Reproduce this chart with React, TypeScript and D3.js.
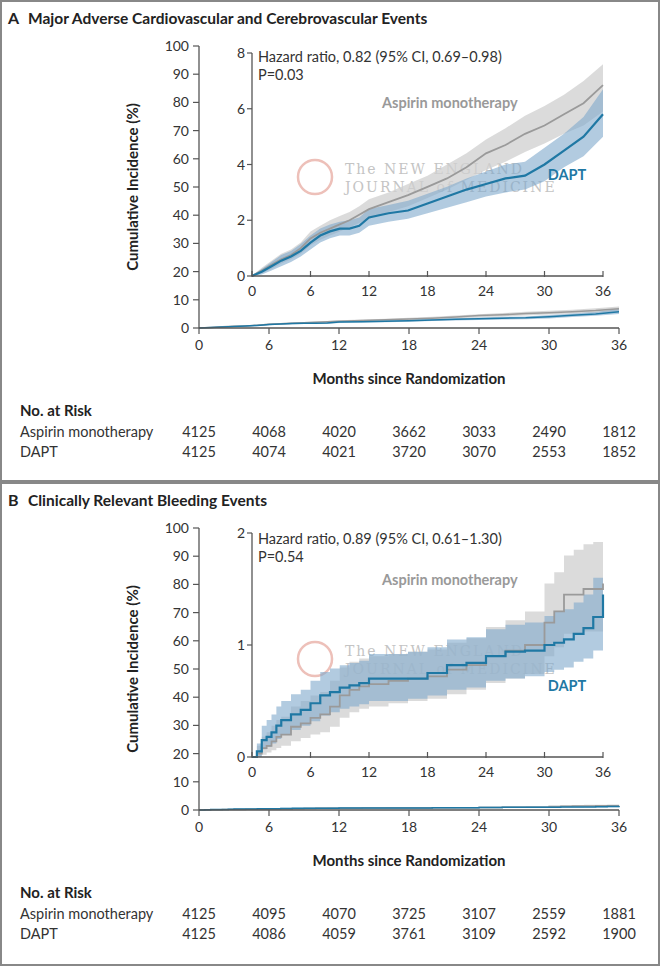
import React from "react";
import * as d3 from "d3";

const months = [0, 6, 12, 18, 24, 30, 36];
const mainYTicks = [0, 10, 20, 30, 40, 50, 60, 70, 80, 90, 100];

const aTimes = [0,1,2,3,4,5,6,7,8,9,10,11,12,14,16,18,20,22,24,26,28,30,32,34,36];
const aAsp = [0,0.2,0.4,0.6,0.75,1.0,1.35,1.55,1.7,1.85,2.0,2.2,2.4,2.65,2.9,3.2,3.5,3.9,4.4,4.7,5.1,5.4,5.8,6.2,6.85];
const aAspLo = [0,0.1,0.25,0.45,0.6,0.8,1.1,1.3,1.45,1.6,1.75,1.9,2.05,2.3,2.5,2.8,3.1,3.45,3.8,4.1,4.45,4.75,5.1,5.4,5.9];
const aAspHi = [0,0.3,0.55,0.8,0.95,1.2,1.6,1.8,2.0,2.15,2.3,2.5,2.75,3.0,3.3,3.6,4.0,4.4,4.9,5.3,5.75,6.1,6.5,7.0,7.6];
const aDapt = [0,0.15,0.35,0.55,0.7,0.9,1.2,1.45,1.6,1.7,1.7,1.8,2.1,2.25,2.35,2.6,2.85,3.1,3.3,3.5,3.6,4.0,4.5,5.0,5.8];
const aDaptLo = [0,0.05,0.2,0.35,0.5,0.7,0.95,1.2,1.35,1.45,1.45,1.55,1.8,1.95,2.05,2.25,2.45,2.65,2.85,3.0,3.1,3.4,3.9,4.3,5.0];
const aDaptHi = [0,0.25,0.5,0.75,0.9,1.15,1.45,1.7,1.85,1.95,2.0,2.1,2.4,2.55,2.7,2.95,3.2,3.5,3.75,4.0,4.1,4.6,5.1,5.7,6.7];

const bTimes = [0,0.5,1,1.5,2,2.5,3,4,5,6,7,8,9,10,11,12,14,16,18,20,22,24,26,28,30,31,32,33,34,35,36];
const bAsp = [0,0.03,0.08,0.1,0.14,0.18,0.2,0.27,0.3,0.35,0.38,0.45,0.55,0.6,0.63,0.65,0.68,0.7,0.72,0.78,0.82,0.9,0.95,1.0,1.2,1.3,1.45,1.45,1.5,1.5,1.55];
const bAspLo = [0,0,0.02,0.04,0.06,0.08,0.1,0.14,0.17,0.2,0.22,0.27,0.35,0.4,0.43,0.45,0.48,0.5,0.52,0.56,0.6,0.66,0.7,0.74,0.9,0.98,1.1,1.1,1.12,1.12,1.15];
const bAspHi = [0,0.1,0.18,0.22,0.28,0.33,0.36,0.45,0.5,0.55,0.58,0.68,0.8,0.85,0.88,0.9,0.92,0.94,0.96,1.02,1.06,1.16,1.22,1.3,1.55,1.65,1.8,1.85,1.9,1.92,1.95];
const bDapt = [0,0.05,0.15,0.18,0.22,0.28,0.33,0.38,0.42,0.48,0.55,0.58,0.62,0.64,0.66,0.7,0.7,0.7,0.75,0.82,0.84,0.9,0.94,0.95,1.0,1.02,1.05,1.1,1.15,1.25,1.45];
const bDaptLo = [0,0,0.07,0.09,0.12,0.16,0.2,0.24,0.28,0.32,0.37,0.4,0.43,0.45,0.47,0.5,0.5,0.52,0.55,0.6,0.62,0.68,0.7,0.72,0.76,0.78,0.8,0.85,0.88,0.95,1.0];
const bDaptHi = [0,0.12,0.28,0.33,0.38,0.45,0.5,0.56,0.6,0.68,0.76,0.79,0.82,0.84,0.86,0.92,0.92,0.94,0.98,1.05,1.07,1.14,1.18,1.2,1.26,1.3,1.32,1.38,1.45,1.6,1.85];

const riskA_asp = [4125, 4068, 4020, 3662, 3033, 2490, 1812];
const riskA_dapt = [4125, 4074, 4021, 3720, 3070, 2553, 1852];
const riskB_asp = [4125, 4095, 4070, 3725, 3107, 2559, 1881];
const riskB_dapt = [4125, 4086, 4059, 3761, 3109, 2592, 1900];

const FONT = "Lato, 'Open Sans', sans-serif";
const BLUE = "#1f78a4";
const GRAY = "#9a9a9a";

type PanelProps = {
  dy: number; letter: string; title: string; hr: string; p: string; step: boolean;
  times: number[]; asp: number[]; aspLo: number[]; aspHi: number[];
  dapt: number[]; daptLo: number[]; daptHi: number[];
  insetMax: number; insetTicks: number[]; insetY0: number; insetYTop: number;
  aspLabelY: number; daptLabelY: number; riskAsp: number[]; riskDapt: number[];
};

function Panel(pr: PanelProps) {
  const { dy } = pr;
  const curve = pr.step ? d3.curveStepAfter : d3.curveLinear;
  const x = d3.scaleLinear().domain([0, 36]).range([199, 619]);
  const y = d3.scaleLinear().domain([0, 100]).range([328 + dy, 46 + dy]);
  const xi = d3.scaleLinear().domain([0, 36]).range([252, 603]);
  const yi = d3.scaleLinear().domain([0, pr.insetMax]).range([pr.insetY0, pr.insetYTop]);
  const idx = d3.range(pr.times.length);
  const lineM = (v: number[]) => d3.line<number>().x(i => x(pr.times[i])).y(i => y(v[i])).curve(curve)(idx)!;
  const areaM = (lo: number[], hi: number[]) => d3.area<number>().x(i => x(pr.times[i])).y0(i => y(lo[i])).y1(i => y(hi[i])).curve(curve)(idx)!;
  const lineI = (v: number[]) => d3.line<number>().x(i => xi(pr.times[i])).y(i => yi(v[i])).curve(curve)(idx)!;
  const areaI = (lo: number[], hi: number[]) => d3.area<number>().x(i => xi(pr.times[i])).y0(i => yi(lo[i])).y1(i => yi(hi[i])).curve(curve)(idx)!;
  const axc = "#555";
  return (
    <g fontFamily={FONT}>
      <text x={8} y={24 + dy} fontSize={16} fontWeight={700} fill="#222">{pr.letter}</text>
      <text x={28} y={24 + dy} fontSize={15.5} fontWeight={700} fill="#222">{pr.title}</text>
      <path d={areaM(pr.aspLo, pr.aspHi)} fill="#cfcfcf" opacity={0.8} />
      <path d={areaM(pr.daptLo, pr.daptHi)} fill="#7fa9cc" opacity={0.6} />
      <path d={lineM(pr.asp)} fill="none" stroke={GRAY} strokeWidth={1.5} />
      <path d={lineM(pr.dapt)} fill="none" stroke={BLUE} strokeWidth={1.5} />
      <line x1={199} x2={199} y1={y(0)} y2={y(100)} stroke={axc} strokeWidth={1.3} />
      <line x1={199} x2={619} y1={y(0)} y2={y(0)} stroke={axc} strokeWidth={1.3} />
      {mainYTicks.map(t => (
        <g key={t}>
          <line x1={193} x2={199} y1={y(t)} y2={y(t)} stroke={axc} strokeWidth={1.2} />
          <text x={189} y={y(t) + 5} textAnchor="end" fontSize={14} fill="#333">{t}</text>
        </g>
      ))}
      {months.map(t => (
        <g key={t}>
          <line x1={x(t)} x2={x(t)} y1={y(0)} y2={y(0) + 6} stroke={axc} strokeWidth={1.2} />
          <text x={x(t)} y={y(0) + 22} textAnchor="middle" fontSize={14} fill="#333">{t}</text>
        </g>
      ))}
      <text transform={`translate(138,${187 + dy}) rotate(-90)`} textAnchor="middle" fontSize={15} fontWeight={700} fill="#222">Cumulative Incidence (%)</text>
      <text x={409} y={384 + dy} textAnchor="middle" fontSize={15} fontWeight={700} fill="#222">Months since Randomization</text>
      <rect x={252} y={pr.insetYTop} width={360} height={pr.insetY0 - pr.insetYTop} fill="white" />
      <circle cx={315} cy={177 + dy} r={17} fill="none" stroke="#e8b0a8" strokeWidth={2.5} opacity={0.8} />
      <text x={345} y={174 + dy} fontFamily="'DejaVu Serif', serif" fontSize={14} fill="#c4c4c4" letterSpacing={2}>The NEW ENGLAND</text>
      <text x={345} y={192 + dy} fontFamily="'DejaVu Serif', serif" fontSize={14} fill="#c4c4c4" letterSpacing={2}>JOURNAL of MEDICINE</text>
      <path d={areaI(pr.aspLo, pr.aspHi)} fill="#cfcfcf" opacity={0.75} />
      <path d={areaI(pr.daptLo, pr.daptHi)} fill="#7fa9cc" opacity={0.6} />
      <path d={lineI(pr.asp)} fill="none" stroke={GRAY} strokeWidth={1.8} />
      <path d={lineI(pr.dapt)} fill="none" stroke={BLUE} strokeWidth={2.2} />
      <line x1={252} x2={252} y1={pr.insetY0} y2={pr.insetYTop} stroke={axc} strokeWidth={1.3} />
      <line x1={252} x2={603} y1={pr.insetY0} y2={pr.insetY0} stroke={axc} strokeWidth={1.3} />
      {pr.insetTicks.map(t => (
        <g key={t}>
          <line x1={247} x2={252} y1={yi(t)} y2={yi(t)} stroke={axc} strokeWidth={1.2} />
          <text x={245} y={yi(t) + 5} textAnchor="end" fontSize={14} fill="#333">{t}</text>
        </g>
      ))}
      {months.map(t => (
        <g key={t}>
          <line x1={xi(t)} x2={xi(t)} y1={pr.insetY0 - 5} y2={pr.insetY0 + 1} stroke={axc} strokeWidth={1.2} />
          <text x={xi(t)} y={pr.insetY0 + 20} textAnchor="middle" fontSize={14} fill="#333">{t}</text>
        </g>
      ))}
      <text x={258} y={62 + dy} fontSize={14.5} fill="#333">{pr.hr}</text>
      <text x={258} y={80 + dy} fontSize={14.5} fill="#333">{pr.p}</text>
      <text x={382} y={pr.aspLabelY} fontSize={14.5} fontWeight={700} fill="#999">Aspirin monotherapy</text>
      <text x={567} y={pr.daptLabelY} textAnchor="middle" fontSize={14.5} fontWeight={700} fill={BLUE}>DAPT</text>
      <text x={20} y={416 + dy} fontSize={15} fontWeight={700} fill="#222">No. at Risk</text>
      <text x={20} y={437 + dy} fontSize={14.5} fill="#333">Aspirin monotherapy</text>
      <text x={20} y={457 + dy} fontSize={14.5} fill="#333">DAPT</text>
      {months.map((t, i) => (
        <g key={t}>
          <text x={x(t)} y={437 + dy} textAnchor="middle" fontSize={14.5} fill="#333">{pr.riskAsp[i]}</text>
          <text x={x(t)} y={457 + dy} textAnchor="middle" fontSize={14.5} fill="#333">{pr.riskDapt[i]}</text>
        </g>
      ))}
    </g>
  );
}

export default function App() {
  return (
    <svg width={660} height={966} style={{ position: "absolute", left: 0, top: 0, background: "white" }}>
      <rect x={1} y={1} width={658} height={480} fill="white" stroke="#888" strokeWidth={2} />
      <rect x={1} y={483} width={658} height={482} fill="white" stroke="#888" strokeWidth={2} />
      <Panel dy={0} letter="A" title="Major Adverse Cardiovascular and Cerebrovascular Events"
        hr="Hazard ratio, 0.82 (95% CI, 0.69–0.98)" p="P=0.03" step={false}
        times={aTimes} asp={aAsp} aspLo={aAspLo} aspHi={aAspHi} dapt={aDapt} daptLo={aDaptLo} daptHi={aDaptHi}
        insetMax={8} insetTicks={[0, 2, 4, 6, 8]} insetY0={276} insetYTop={53}
        aspLabelY={108} daptLabelY={180} riskAsp={riskA_asp} riskDapt={riskA_dapt} />
      <Panel dy={482} letter="B" title="Clinically Relevant Bleeding Events"
        hr="Hazard ratio, 0.89 (95% CI, 0.61–1.30)" p="P=0.54" step={true}
        times={bTimes} asp={bAsp} aspLo={bAspLo} aspHi={bAspHi} dapt={bDapt} daptLo={bDaptLo} daptHi={bDaptHi}
        insetMax={2} insetTicks={[0, 1, 2]} insetY0={757} insetYTop={533}
        aspLabelY={585} daptLabelY={691} riskAsp={riskB_asp} riskDapt={riskB_dapt} />
    </svg>
  );
}
